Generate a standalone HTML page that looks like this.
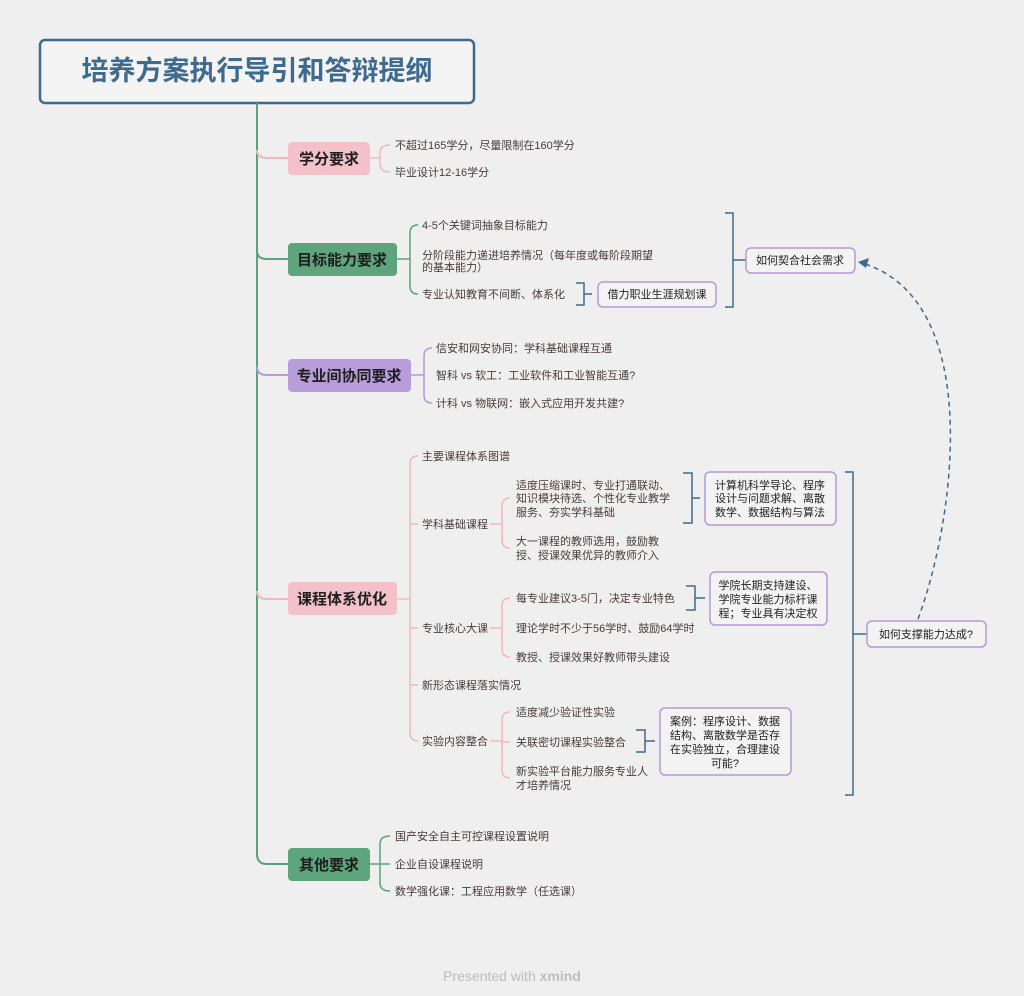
<!DOCTYPE html>
<html><head><meta charset="utf-8"><style>
html,body{margin:0;padding:0;background:#efefef;}
svg{display:block;}
text{font-family:"Liberation Sans","Noto Sans CJK SC",sans-serif;}
.l{font-size:11px;fill:#4a3a3a;}
.n{font-size:15px;font-weight:bold;fill:#1e1e1e;text-anchor:middle;}
.b{font-size:11px;fill:#222;text-anchor:middle;}
</style></head><body>
<svg width="1024" height="996" viewBox="0 0 1024 996" xmlns="http://www.w3.org/2000/svg">
<rect width="1024" height="996" fill="#efefef"/>
<!-- title -->
<rect x="40" y="40" width="434" height="63" rx="5" fill="#f4f4f4" stroke="#3e6a8f" stroke-width="2.5"/>
<text x="257" y="80" font-size="27" font-weight="bold" fill="#3e6a8f" text-anchor="middle">培养方案执行导引和答辩提纲</text>
<!-- trunk -->
<g fill="none" stroke-width="2">
<path d="M257,103 V854 Q257,864 267,864 H288" stroke="#5aa27c"/>
<path d="M257,150 Q257,158 267,158 H288" stroke="#f1b7bf"/>
<path d="M257,251 Q257,259 267,259 H288" stroke="#5aa27c"/>
<path d="M257,367 Q257,375 267,375 H288" stroke="#b49ad6"/>
<path d="M257,591 Q257,599 267,599 H288" stroke="#f1b7bf"/>
</g>
<!-- level1 nodes -->
<rect x="288" y="142" width="82" height="33" rx="4" fill="#f4c1c9"/>
<text class="n" x="329" y="164">学分要求</text>
<rect x="288" y="243" width="109" height="33" rx="4" fill="#5ea57e"/>
<text class="n" x="342" y="265">目标能力要求</text>
<rect x="288" y="359" width="123" height="33" rx="4" fill="#b89ddb"/>
<text class="n" x="349" y="381">专业间协同要求</text>
<rect x="288" y="582" width="109" height="33" rx="4" fill="#f4c1c9"/>
<text class="n" x="342" y="604">课程体系优化</text>
<rect x="288" y="848" width="82" height="33" rx="4" fill="#5ea57e"/>
<text class="n" x="329" y="870">其他要求</text>

<g fill="none" stroke-width="1.5">
<!-- 学分 -->
<path d="M370,158 H380 M390,145 Q380,145 380,153 V164 Q380,172 390,172" stroke="#f1b7bf"/>
<!-- 目标 -->
<path d="M397,259 H410 M418,225 Q410,225 410,233 V286 Q410,294 418,294" stroke="#5aa27c"/>
<!-- 协同 -->
<path d="M411,375 H424 M432,348 Q424,348 424,356 V395 Q424,403 432,403" stroke="#b49ad6"/>
<!-- 课程 -->
<path d="M397,599 H410 M418,456 Q410,456 410,464 V733 Q410,741 418,741 M410,524 H418 M410,628 H418 M410,685 H418" stroke="#f1b7bf"/>
<path d="M490,524 H502 M510,498 Q502,498 502,506 V540 Q502,548 510,548" stroke="#f1b7bf"/>
<path d="M490,628 H502 M510,598 Q502,598 502,606 V649 Q502,657 510,657" stroke="#f1b7bf"/>
<path d="M490,741 H502 M510,712 Q502,712 502,720 V770 Q502,778 510,778 M502,742 H510" stroke="#f1b7bf"/>
<!-- 其他 -->
<path d="M370,864 H380 M390,836 Q380,836 380,844 V883 Q380,891 390,891 M380,864 H390" stroke="#5aa27c"/>
<!-- blue brackets -->
<g stroke="#3e6a8f">
<path d="M576,283 H584 V305 H576 M584,294 H592"/>
<path d="M725,213 H733 V307 H725 M733,260 H746"/>
<path d="M683,473 H692 V523 H683 M692,498 H700"/>
<path d="M686,586 H695 V610 H686 M695,598 H705"/>
<path d="M636,730 H645 V752 H636 M645,741 H655"/>
<path d="M845,472 H853 V795 H845 M853,634 H867"/>
</g>
<!-- dashed arrow -->
<path d="M918,619 C955,520 985,300 862,263" stroke="#3e6a8f" stroke-dasharray="5,4"/>
</g>
<path d="M858,262 L869,258 L866,268 Z" fill="#3e6a8f"/>

<!-- boxes -->
<g fill="#f3f3f3" stroke="#b49ad6" stroke-width="1.5">
<rect x="598" y="282" width="118" height="25" rx="5"/>
<rect x="746" y="248" width="109" height="25" rx="5"/>
<rect x="705" y="472" width="131" height="53" rx="5"/>
<rect x="710" y="572" width="117" height="53" rx="5"/>
<rect x="660" y="708" width="131" height="67" rx="5"/>
<rect x="867" y="621" width="119" height="26" rx="5"/>
</g>
<text class="b" x="657" y="298">借力职业生涯规划课</text>
<text class="b" x="800" y="264">如何契合社会需求</text>
<text class="b" x="770" y="489">计算机科学导论、程序</text>
<text class="b" x="770" y="502">设计与问题求解、离散</text>
<text class="b" x="770" y="516">数学、数据结构与算法</text>
<text class="b" x="768" y="589">学院长期支持建设、</text>
<text class="b" x="768" y="603">学院专业能力标杆课</text>
<text class="b" x="768" y="617">程；专业具有决定权</text>
<text class="b" x="725" y="725">案例：程序设计、数据</text>
<text class="b" x="725" y="739">结构、离散数学是否存</text>
<text class="b" x="725" y="753">在实验独立，合理建设</text>
<text class="b" x="725" y="767">可能?</text>
<text class="b" x="926" y="638">如何支撑能力达成?</text>

<!-- leaves -->
<text class="l" x="395" y="149">不超过165学分，尽量限制在160学分</text>
<text class="l" x="395" y="176">毕业设计12-16学分</text>
<text class="l" x="422" y="229">4-5个关键词抽象目标能力</text>
<text class="l" x="422" y="259">分阶段能力递进培养情况（每年度或每阶段期望</text>
<text class="l" x="422" y="271">的基本能力）</text>
<text class="l" x="422" y="298">专业认知教育不间断、体系化</text>
<text class="l" x="436" y="352">信安和网安协同：学科基础课程互通</text>
<text class="l" x="436" y="379">智科 vs 软工：工业软件和工业智能互通?</text>
<text class="l" x="436" y="407">计科 vs 物联网：嵌入式应用开发共建?</text>
<text class="l" x="422" y="460">主要课程体系图谱</text>
<text class="l" x="422" y="528">学科基础课程</text>
<text class="l" x="422" y="632">专业核心大课</text>
<text class="l" x="422" y="689">新形态课程落实情况</text>
<text class="l" x="422" y="745">实验内容整合</text>
<text class="l" x="516" y="489">适度压缩课时、专业打通联动、</text>
<text class="l" x="516" y="502">知识模块待选、个性化专业教学</text>
<text class="l" x="516" y="516">服务、夯实学科基础</text>
<text class="l" x="516" y="545">大一课程的教师选用，鼓励教</text>
<text class="l" x="516" y="559">授、授课效果优异的教师介入</text>
<text class="l" x="516" y="602">每专业建议3-5门，决定专业特色</text>
<text class="l" x="516" y="632">理论学时不少于56学时、鼓励64学时</text>
<text class="l" x="516" y="661">教授、授课效果好教师带头建设</text>
<text class="l" x="516" y="716">适度减少验证性实验</text>
<text class="l" x="516" y="746">关联密切课程实验整合</text>
<text class="l" x="516" y="775">新实验平台能力服务专业人</text>
<text class="l" x="516" y="789">才培养情况</text>
<text class="l" x="395" y="840">国产安全自主可控课程设置说明</text>
<text class="l" x="395" y="868">企业自设课程说明</text>
<text class="l" x="395" y="895">数学强化课：工程应用数学（任选课）</text>

<text x="512" y="981" font-size="14" fill="#bdbdbd" text-anchor="middle">Presented with <tspan font-weight="bold">xmind</tspan></text>
</svg>
</body></html>
